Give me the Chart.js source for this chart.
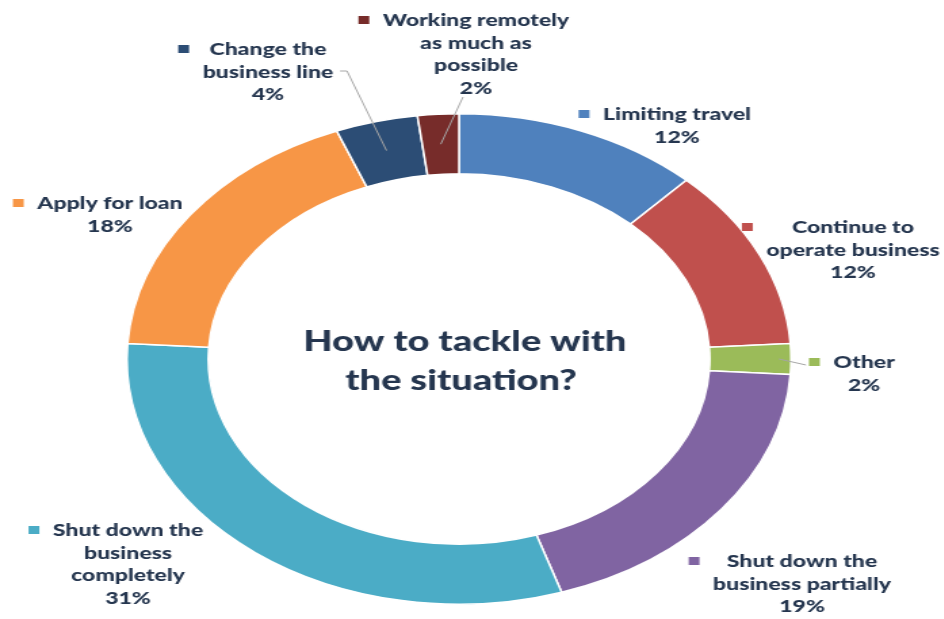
<!DOCTYPE html>
<html>
<head>
<meta charset="utf-8">
<script src="https://cdn.jsdelivr.net/npm/chart.js@4.4.1/dist/chart.umd.min.js"></script>
<style>
  html, body { margin: 0; padding: 0; background: #ffffff; overflow: hidden; }
  #wrap { position: absolute; left: 0; top: 0; transform-origin: 0 0; }
</style>
</head>
<body>
<div id="wrap"><canvas id="chart"></canvas></div>
<script>
// Answers and their shares (%)
const categories = [
  ['Limiting travel'],
  ['Continue to', 'operate business'],
  ['Other'],
  ['Shut down the', 'business partially'],
  ['Shut down the', 'business', 'completely'],
  ['Apply for loan'],
  ['Change the', 'business line'],
  ['Working remotely', 'as much as', 'possible']
];
const shares = [12, 12, 2, 19, 31, 18, 4, 2];
const sliceColors = ['#4f81bd', '#c0504d', '#9bbb59', '#8064a2', '#4bacc6', '#f79646', '#2c4d75', '#772c2a'];
const centerTitle = ['How to tackle with', 'the situation?'];

// Page geometry: the ring is drawn round, then the whole figure is widened
const PAGE_W = 944, PAGE_H = 619;
const SX = 1.354;
const CW = Math.round(PAGE_W / SX);

// Label placement in page pixels: text column centre x, first line centre y
const labelAnchors = [
  [677, 115], [853, 228], [864, 363], [802, 562],
  [128, 531], [110, 204], [268, 50], [476, 21]
];
// Leader lines: start point in page pixels, end on the slice at a ring fraction
const leaders = {
  6: { from: [[340, 71], [347, 71]], ring: 0.5 },
  7: { from: [[463, 97]], ring: 0.5 },
  2: { from: [[806, 365]], ring: 0.85 }
};

const TEXT = '#25364f';
const LABEL_FONT = '900 17px Lato, "Open Sans", sans-serif';
const LINE_H = 22.5;

const wrap = document.getElementById('wrap');
wrap.style.width = CW + 'px';
wrap.style.height = PAGE_H + 'px';
wrap.style.transform = 'scaleX(' + SX + ')';
const canvas = document.getElementById('chart');
canvas.width = CW;
canvas.height = PAGE_H;

const labelPlugin = {
  id: 'sliceLabels',
  afterDatasetsDraw(chart) {
    const ctx = chart.ctx;
    const meta = chart.getDatasetMeta(0);
    const area = chart.chartArea;
    const cx = (area.left + area.right) / 2;
    const cy = (area.top + area.bottom) / 2;

    ctx.save();
    // centre title
    ctx.fillStyle = TEXT;
    ctx.textAlign = 'center';
    ctx.textBaseline = 'middle';
    ctx.font = '900 28px Lato, "Open Sans", sans-serif';
    ctx.fillText(centerTitle[0], 465 / SX, 342);
    ctx.fillText(centerTitle[1], 461 / SX, 381);

    // leader lines
    ctx.strokeStyle = '#a6a6a6';
    ctx.lineWidth = 1;
    Object.keys(leaders).forEach(k => {
      const i = +k;
      const arc = meta.data[i];
      const p = arc.getProps(['startAngle', 'endAngle', 'innerRadius', 'outerRadius'], true);
      const mid = (p.startAngle + p.endAngle) / 2;
      const r = p.innerRadius + (p.outerRadius - p.innerRadius) * leaders[k].ring;
      ctx.beginPath();
      leaders[k].from.forEach((pt, j) => {
        if (j === 0) ctx.moveTo(pt[0] / SX, pt[1]); else ctx.lineTo(pt[0] / SX, pt[1]);
      });
      ctx.lineTo(cx + Math.cos(mid) * r, cy + Math.sin(mid) * r);
      ctx.stroke();
    });

    // labels with colour keys
    ctx.font = LABEL_FONT;
    categories.forEach((lines, i) => {
      const all = lines.concat([shares[i] + '%']);
      const x = labelAnchors[i][0] / SX;
      const y0 = labelAnchors[i][1];
      let widest = 0;
      all.forEach(t => { widest = Math.max(widest, ctx.measureText(t).width); });
      ctx.fillStyle = TEXT;
      all.forEach((t, j) => ctx.fillText(t, x, y0 + j * LINE_H));
      ctx.fillStyle = sliceColors[i];
      ctx.fillRect(x - widest / 2 - 18, y0 - 5, 8, 8);
    });
    ctx.restore();
  }
};

new Chart(canvas, {
  type: 'doughnut',
  data: {
    labels: categories,
    datasets: [{
      data: shares,
      backgroundColor: sliceColors,
      borderColor: '#ffffff',
      borderWidth: 1.5
    }]
  },
  options: {
    responsive: false,
    animation: false,
    cutout: '75.5%',
    layout: { padding: { left: 93, top: 113, right: CW - 93 - 492, bottom: PAGE_H - 113 - 492 } },
    plugins: { legend: { display: false }, tooltip: { enabled: false } }
  },
  plugins: [labelPlugin]
});
</script>
</body>
</html>
